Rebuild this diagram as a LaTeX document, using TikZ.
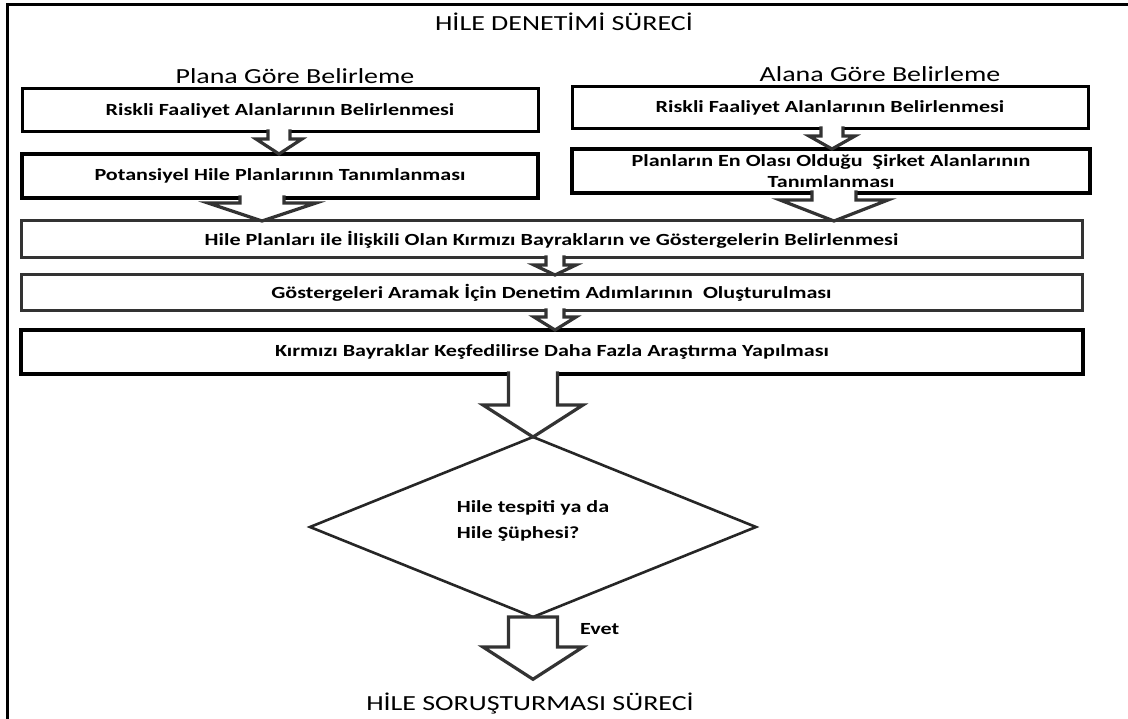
\documentclass[tikz,border=0pt]{standalone}
\usepackage{fontspec}
\setmainfont{Carlito}[FakeStretch=1.3]
\usetikzlibrary{calc,shapes.geometric}

\newcommand\boxfont{\fontsize{17}{21}\selectfont\bfseries}

% hollow block arrow: source anchor, target anchor, centre x, shaft half width,
% head half width, shaft length; open at the top so it merges with the box above
\newcommand\blockarrow[6]{%
  \filldraw[blockarrow] let \p1=(#1), \p2=(#2) in
    ({#3pt-#4pt},{\y1+2.5pt}) -- ({#3pt-#4pt},{\y1-#6pt}) -- ({#3pt-#5pt},{\y1-#6pt})
    -- (#3pt,\y2) -- ({#3pt+#5pt},{\y1-#6pt}) -- ({#3pt+#4pt},{\y1-#6pt})
    -- ({#3pt+#4pt},{\y1+2.5pt});
}
% same arrow with a closed shaft top
\newcommand\closedarrow[6]{%
  \filldraw[blockarrow] let \p1=(#1), \p2=(#2) in
    ({#3pt-#4pt},\y1) -- ({#3pt-#4pt},{\y1-#6pt}) -- ({#3pt-#5pt},{\y1-#6pt})
    -- (#3pt,\y2) -- ({#3pt+#5pt},{\y1-#6pt}) -- ({#3pt+#4pt},{\y1-#6pt})
    -- ({#3pt+#4pt},\y1) -- cycle;
}

\begin{document}
\begin{tikzpicture}[x=1pt,y=-1pt,
  box/.style={draw=black, line width=3pt, fill=white, inner sep=0pt, outer sep=0pt,
              font=\boxfont, align=center},
  thickbox/.style={box, line width=4.5pt},
  softbox/.style={box, draw=black!80},
  heading/.style={font=\fontsize{21.5}{26}\selectfont, inner sep=0pt, anchor=base},
  blockarrow/.style={draw=black!80, fill=white, line width=3.2pt, line join=miter},
  decision/.style={diamond, draw=black!85, line width=2.6pt, aspect=2.5,
              minimum width=446pt, minimum height=180pt, inner sep=0pt, outer sep=0pt,
              font=\fontsize{17}{26}\selectfont\bfseries, align=left},
  frame/.style={draw=black, line width=3pt}
]
\useasboundingbox (0,0) rectangle (1128,719);

% outer frame (top and left edges)
\draw[frame] (7,719) -- (7,5) -- (1128,5);

% headings
\node[heading] (title) at (564,31) {HİLE DENETİMİ SÜRECİ};
\node[heading] (plana) at (295,84) {Plana Göre Belirleme};
\node[heading] (alana) at (880,82) {Alana Göre Belirleme};

% two parallel columns
\node[box, minimum width=516pt, minimum height=43pt] (L1) at (280,110.5)
  {Riskli Faaliyet Alanlarının Belirlenmesi};
\node[thickbox, minimum width=516pt, minimum height=44pt] (L2) at (280,176)
  {Potansiyel Hile Planlarının Tanımlanması};
\node[box, minimum width=516pt, minimum height=42pt] (R1) at (830,108)
  {Riskli Faaliyet Alanlarının Belirlenmesi};
\node[thickbox, minimum width=518pt, minimum height=44pt] (R2) at (831,171)
  {Planların En Olası Olduğu~ Şirket Alanlarının\\Tanımlanması};

% full-width steps
\node[softbox, minimum width=1061pt, minimum height=37pt] (W1) at (551.5,239.5)
  {Hile Planları ile İlişkili Olan Kırmızı Bayrakların ve Göstergelerin Belirlenmesi};
\node[softbox, minimum width=1061pt, minimum height=36pt] (W2) at (551.5,293)
  {Göstergeleri Aramak İçin Denetim Adımlarının~ Oluşturulması};
\node[thickbox, minimum width=1062pt, minimum height=44pt] (W3) at (552,352)
  {Kırmızı Bayraklar Keşfedilirse Daha Fazla Araştırma Yapılması};

% decision and outcome (the strut lifts the two lines slightly above centre)
\node[decision] (D) at (533,527)
  {Hile tespiti ya da\\Hile Şüphesi?\rule[-14pt]{0pt}{14pt}};
\node[heading, inner ysep=13pt] (end) at (530,710) {HİLE SORUŞTURMASI SÜRECİ};
\node[font=\boxfont, anchor=base west, inner sep=0pt] (evet) at (580,634) {Evet};

% connectors
\blockarrow{L1.south}{L2.north}{279}{11}{23}{7}
\blockarrow{R1.south}{R2.north}{832}{11}{23}{7}
\blockarrow{L2.south}{W1.north}{262}{22}{54}{5}
\blockarrow{R2.south}{W1.north}{834}{22}{54}{7}
\blockarrow{W1.south}{W2.north}{555}{9}{21}{7}
\blockarrow{W2.south}{W3.north}{555}{9}{21}{6}
\blockarrow{W3.south}{D.north}{533}{24.5}{50}{31}
\closedarrow{D.south}{end.north}{533}{24.5}{50}{30}
\end{tikzpicture}
\end{document}
